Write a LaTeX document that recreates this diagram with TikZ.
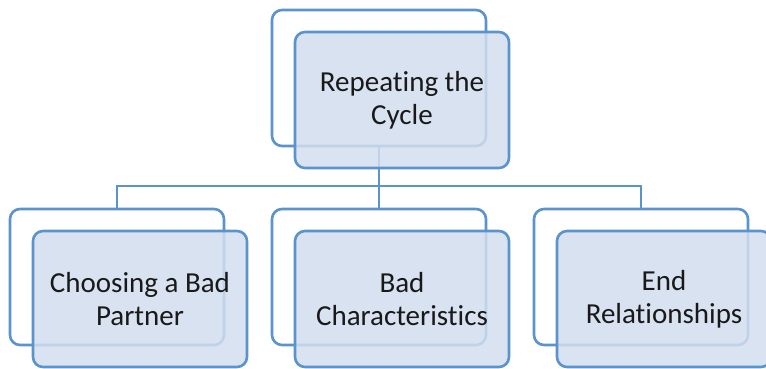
\documentclass[tikz,border=0pt]{standalone}
\usepackage{fontspec}
\setmainfont{Carlito}[Ligatures=NoCommon]
\usepackage{xcolor}
\usetikzlibrary{positioning}
\definecolor{boxline}{HTML}{5B93CC}
\definecolor{boxfill}{HTML}{D2DEEF}

\begin{document}
\begin{tikzpicture}[x=1pt, y=-1pt, line width=2.6pt,
    back/.style={draw=boxline, fill=white, rounded corners=10pt,
      minimum width=214pt, minimum height=136pt},
    front/.style={back, fill=boxfill, fill opacity=0.85, text opacity=1,
      align=center, text=black!90, font=\fontsize{29}{33}\selectfont}]
    \useasboundingbox (0,0) rectangle (766,368);

    % back frames
    \node[back](C0) at (379,  78) {};
    \node[back](C1) at (117, 277) {};
    \node[back](C2) at (379, 277) {};
    \node[back](C3) at (641, 277) {};

    % tree lines
    \coordinate (J) at (379, 186);
    \draw[boxline] (C0) -- (J) (J) -| (C1) (J) -- (C2) (J) -| (C3);

    % front boxes
    \node[front](T0) at (402, 100) {Repeating the\\Cycle};
    \node[front](T1) at (140, 299) {Choosing a Bad\\Partner};
    \node[front](T2) at (402, 299) {Bad\\Characteristics};
    \node[front](T3) at (664, 299) {End\\Relationships};
  \end{tikzpicture}
\end{document}
